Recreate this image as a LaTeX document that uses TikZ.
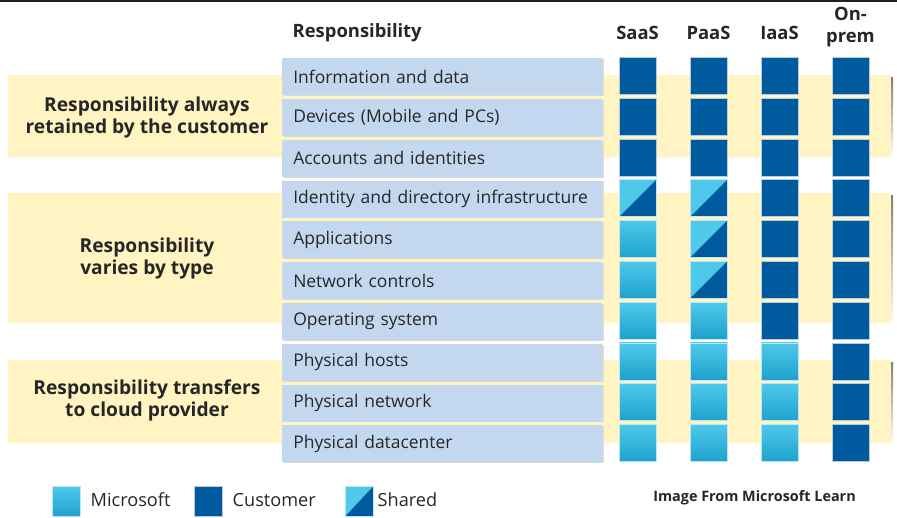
\documentclass[tikz,border=0pt]{standalone}
\usepackage{fontspec}
\setmainfont{Open Sans}
\definecolor{cust}{HTML}{005A9E}
\definecolor{msT}{HTML}{4FC8EA}
\definecolor{msB}{HTML}{1EA2CE}
\definecolor{rowfill}{HTML}{C3D8EF}
\definecolor{band}{HTML}{FFF4C2}
\definecolor{shade}{HTML}{DADADA}
\definecolor{ink}{HTML}{262626}
\definecolor{topline}{HTML}{1B1F2B}
\tikzset{
  rowbox/.style={fill=rowfill, anchor=north west, minimum height=27.75pt, minimum width=240pt,
    text width=223.5pt, inner xsep=8.25pt, align=left, font=\fontsize{13.1}{14}\selectfont, text=ink},
  rowshadow/.style={fill=shade},
  sq/.style={anchor=north west, minimum size=27.75pt, inner sep=0pt, draw=white!70!cust, line width=0.5pt},
  cu/.style={sq, fill=cust},
  ms/.style={sq, draw=white!60!msT, top color=msT, middle color=msT, bottom color=msB},
  sh/.style={sq, fill=msT, draw=white!60!msT, path picture={\fill[cust] (path picture bounding box.south west) -- (path picture bounding box.south east) -- (path picture bounding box.north east) -- cycle;}},
  hdr/.style={font=\bfseries\fontsize{13.8}{16}\selectfont, text=ink},
  grp/.style={font=\bfseries\fontsize{14.4}{16.5}\selectfont, text=ink, align=center},
  leg/.style={font=\fontsize{13.6}{15}\selectfont, text=ink, anchor=west},
}
\begin{document}
\begin{tikzpicture}[x=0.75pt,y=-0.75pt]
\useasboundingbox (0,0) rectangle (897,518);
\fill[white] (0,0) rectangle (897,518);
\fill[topline] (0,0) rectangle (897,2);
% bands
\fill[shade] (10,77) rectangle (893,159);
\fill[band] (8,75) rectangle (891,157);
\fill[shade] (10,195) rectangle (893,325);
\fill[band] (8,193) rectangle (891,323);
\fill[shade] (10,362) rectangle (893,445);
\fill[band] (8,360) rectangle (891,443);
% group labels
\node[grp] (g1) at (147,118) {Responsibility always\\retained by the customer};
\node[grp] (g2) at (147,259) {Responsibility\\varies by type};
\node[grp] (g3) at (147,400) {Responsibility transfers\\to cloud provider};
% headers
\node[hdr, anchor=west] (hr) at (288,33) {Responsibility};
\node[hdr] (hs) at (637.5,33) {SaaS};
\node[hdr] (hp) at (708.5,33) {PaaS};
\node[hdr] (hi) at (779.5,33) {IaaS};
\node[hdr, align=center, font=\bfseries\fontsize{13.8}{16.5}\selectfont] (ho) at (850.5,27) {On-\\prem};
% rows
\foreach \i/\t in {0/Information and data,1/Devices (Mobile and PCs),2/Accounts and identities,
  3/Identity and directory infrastructure,4/Applications,5/Network controls,6/Operating system,
  7/Physical hosts,8/Physical network,9/Physical datacenter}{
  \fill[rowshadow] (284,{59+40.8*\i}) rectangle (604,{96+40.8*\i});
  \node[rowbox] (r\i) at (282,{58+40.8*\i}) {\t};
}
% squares: columns SaaS, PaaS, IaaS, On-prem
\foreach \i/\a/\b/\c/\d in {0/cu/cu/cu/cu,1/cu/cu/cu/cu,2/cu/cu/cu/cu,3/sh/sh/cu/cu,4/ms/sh/cu/cu,
  5/ms/sh/cu/cu,6/ms/ms/cu/cu,7/ms/ms/ms/cu,8/ms/ms/ms/cu,9/ms/ms/ms/cu}{
  \node[\a] (s\i) at (619,{57+40.8*\i}) {};
  \node[\b] (p\i) at (690,{57+40.8*\i}) {};
  \node[\c] (q\i) at (761,{57+40.8*\i}) {};
  \node[\d] (o\i) at (832,{57+40.8*\i}) {};
}
% legend
\node[ms, minimum width=21pt, minimum height=22.5pt] (lm) at (52,486) {};
\node[leg] (lmt) at (86,500) {Microsoft};
\node[cu, minimum width=21pt, minimum height=22.5pt] (lc) at (194,486) {};
\node[leg] (lct) at (228,500) {Customer};
\node[sh, minimum width=21pt, minimum height=22.5pt] (ls) at (345,486) {};
\node[leg] (lst) at (373,500) {Shared};
\node[font=\bfseries\fontsize{10.8}{12}\selectfont, text=ink] (src) at (754.5,498) {Image From Microsoft Learn};
\end{tikzpicture}
\end{document}
